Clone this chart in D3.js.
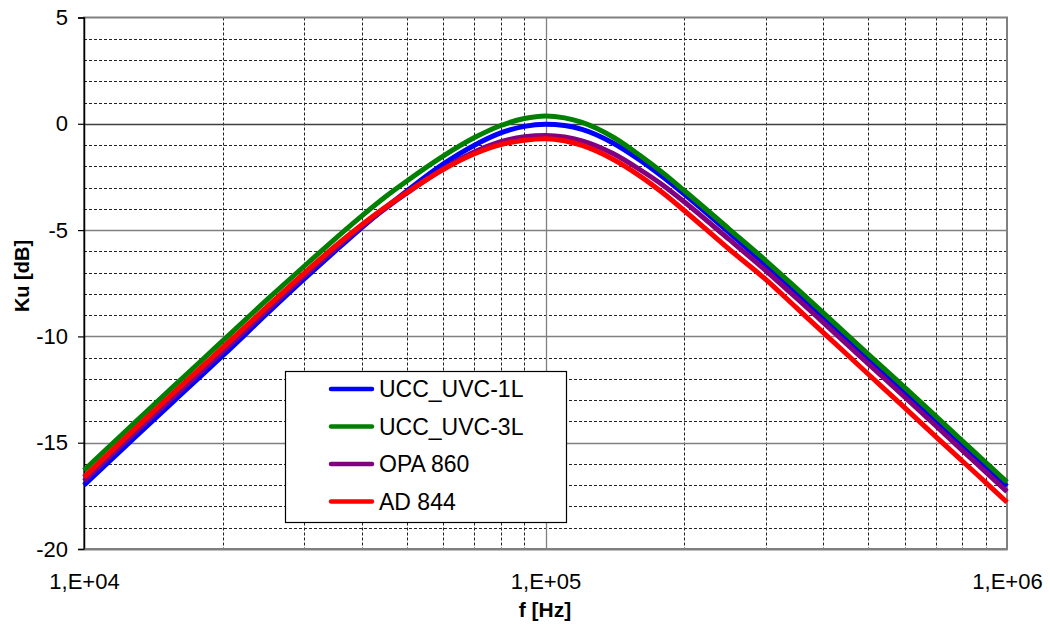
<!DOCTYPE html>
<html>
<head>
<meta charset="utf-8">
<script src="https://cdn.jsdelivr.net/npm/d3@7"></script>
<style>
  html, body { margin: 0; padding: 0; background: #fff; }
  svg { display: block; font-family: "Liberation Sans", Arial, sans-serif; }
</style>
</head>
<body>
<svg id="chart" width="1050" height="624"></svg>
<script>
// Measured frequency response, Ku [dB] against f [Hz]
const freqHz = [10e3, 11e3, 12.5e3, 14e3, 16e3, 18e3, 20e3, 25e3, 30e3, 35e3, 40e3, 45e3,
  50e3, 60e3, 70e3, 80e3, 90e3, 100e3, 110e3, 120e3, 140e3, 160e3, 180e3, 200e3,
  250e3, 300e3, 350e3, 400e3, 500e3, 600e3, 700e3, 800e3, 900e3, 1000e3];

const kuUcc1L = [-17.00, -16.15, -15.02, -14.02, -12.85, -11.82, -10.90, -8.90, -7.30, -5.99, -4.88, -3.95,
  -3.17, -1.90, -1.02, -0.43, -0.12, -0.02, -0.08, -0.26, -0.90, -1.70, -2.52, -3.32,
  -5.12, -6.63, -7.94, -9.09, -11.03, -12.60, -13.94, -15.11, -16.13, -17.05];

const kuUcc3L = [-16.30, -15.45, -14.32, -13.32, -12.15, -11.12, -10.20, -8.25, -6.70, -5.41, -4.33, -3.43,
  -2.70, -1.52, -0.66, -0.08, 0.25, 0.37, 0.28, 0.07, -0.62, -1.48, -2.32, -3.15,
  -4.95, -6.43, -7.74, -8.89, -10.83, -12.40, -13.74, -14.91, -15.93, -16.85];

const kuOpa860 = [-16.80, -15.94, -14.80, -13.80, -12.63, -11.61, -10.70, -8.74, -7.15, -5.88, -4.82, -3.98,
  -3.27, -2.12, -1.33, -0.84, -0.61, -0.55, -0.62, -0.80, -1.40, -2.15, -2.90, -3.68,
  -5.44, -6.90, -8.20, -9.35, -11.28, -12.85, -14.19, -15.36, -16.38, -17.30];

const kuAd844 = [-16.62, -15.76, -14.62, -13.62, -12.45, -11.43, -10.52, -8.58, -7.02, -5.76, -4.75, -3.92,
  -3.24, -2.15, -1.42, -0.98, -0.77, -0.70, -0.80, -1.02, -1.67, -2.45, -3.27, -4.09,
  -5.90, -7.32, -8.66, -9.82, -11.77, -13.35, -14.70, -15.86, -16.88, -17.80];

const seriesNames = ["UCC_UVC-1L", "UCC_UVC-3L", "OPA 860", "AD 844"];
const seriesColors = ["#0000ff", "#008000", "#800080", "#ff0000"];
const seriesValues = [kuUcc1L, kuUcc3L, kuOpa860, kuAd844];

const yTicks = [5, 0, -5, -10, -15, -20];
const xTicks = [1e4, 1e5, 1e6];
const xTickLabels = ["1,E+04", "1,E+05", "1,E+06"];

const svg = d3.select("#chart");
const plot = { left: 84, right: 1007, top: 17.5, bottom: 549 };

const x = d3.scaleLog().domain([1e4, 1e6]).range([plot.left, plot.right]);
const y = d3.scaleLinear().domain([-20, 5]).range([plot.bottom, plot.top]);

// Minor grid: every 1 dB and every 2..9 within each decade
const minorY = d3.range(-19, 5).filter(v => v % 5 !== 0);
const minorX = [];
[1e4, 1e5].forEach(d => { for (let m = 2; m <= 9; m++) minorX.push(d * m); });

const grid = svg.append("g");
grid.selectAll("line.hmin").data(minorY).join("line")
  .attr("x1", plot.left).attr("x2", plot.right)
  .attr("y1", d => Math.round(y(d)) + 0.5).attr("y2", d => Math.round(y(d)) + 0.5)
  .attr("stroke", "#222").attr("stroke-width", 1).attr("stroke-dasharray", "3,2");
grid.selectAll("line.vmin").data(minorX).join("line")
  .attr("y1", plot.top).attr("y2", plot.bottom)
  .attr("x1", d => Math.round(x(d)) + 0.5).attr("x2", d => Math.round(x(d)) + 0.5)
  .attr("stroke", "#222").attr("stroke-width", 1).attr("stroke-dasharray", "3,2");

// Major grid lines
grid.selectAll("line.hmaj").data([0, -5, -10, -15]).join("line")
  .attr("x1", plot.left).attr("x2", plot.right)
  .attr("y1", d => Math.round(y(d)) + 0.5).attr("y2", d => Math.round(y(d)) + 0.5)
  .attr("stroke", d => d === 0 ? "#404040" : "#808080").attr("stroke-width", 1.3);
grid.append("line")
  .attr("x1", Math.round(x(1e5)) + 0.5).attr("x2", Math.round(x(1e5)) + 0.5)
  .attr("y1", plot.top).attr("y2", plot.bottom)
  .attr("stroke", "#808080").attr("stroke-width", 1.3);

// Plot frame
svg.append("rect")
  .attr("x", plot.left).attr("y", plot.top)
  .attr("width", plot.right - plot.left).attr("height", plot.bottom - plot.top)
  .attr("fill", "none").attr("stroke", "#808080").attr("stroke-width", 2);

// Y axis with outward ticks
const yAxis = d3.axisLeft(y).tickValues(yTicks).tickSize(6).tickPadding(10)
  .tickFormat(d3.format("d"));
const gy = svg.append("g").attr("transform", `translate(${plot.left},0)`).call(yAxis);
gy.select(".domain").attr("stroke", "#000").attr("stroke-width", 1.5);
gy.selectAll(".tick line").attr("stroke", "#000").attr("stroke-width", 1.2);
gy.selectAll(".tick text").attr("font-size", 22).attr("fill", "#000")
  .attr("font-family", "'Liberation Sans', Arial, sans-serif")
  .text(d => d < 0 ? "-" + Math.abs(d) : d);

// X axis labels
const xAxis = d3.axisBottom(x).tickValues(xTicks).tickSize(0).tickPadding(24)
  .tickFormat((d, i) => xTickLabels[i]);
const gx = svg.append("g").attr("transform", `translate(0,${plot.bottom})`).call(xAxis);
gx.select(".domain").attr("stroke", "#808080").attr("stroke-width", 2);
gx.selectAll(".tick text").attr("font-size", 22).attr("fill", "#000")
  .attr("font-family", "'Liberation Sans', Arial, sans-serif");

// Axis titles
svg.append("text").attr("x", 545).attr("y", 617).attr("text-anchor", "middle")
  .attr("font-size", 21).attr("font-weight", "bold").text("f [Hz]");
svg.append("text").attr("transform", "translate(29,276) rotate(-90)")
  .attr("text-anchor", "middle").attr("font-size", 20).attr("font-weight", "bold").text("Ku [dB]");

// Response curves
const line = d3.line()
  .x((d, i) => x(freqHz[i]))
  .y(d => y(d))
  .curve(d3.curveMonotoneX);

svg.append("g").selectAll("path").data(seriesValues).join("path")
  .attr("d", d => line(d))
  .attr("fill", "none")
  .attr("stroke", (d, i) => seriesColors[i])
  .attr("stroke-width", 5)
  .attr("stroke-linejoin", "round");

// Legend
const legend = svg.append("g");
legend.append("rect").attr("x", 285.5).attr("y", 371.5).attr("width", 281).attr("height", 151)
  .attr("fill", "#fff").attr("stroke", "#000").attr("stroke-width", 1.2);
const rows = legend.selectAll("g.row").data(seriesNames).join("g")
  .attr("transform", (d, i) => `translate(0,${389 + i * 37.5})`);
rows.append("line").attr("x1", 331).attr("x2", 372).attr("y1", 0).attr("y2", 0)
  .attr("stroke", (d, i) => seriesColors[i]).attr("stroke-width", 4.5).attr("stroke-linecap", "round");
rows.append("text").attr("x", 379).attr("y", 8).attr("font-size", 23).attr("fill", "#000")
  .text(d => d);
</script>
</body>
</html>
